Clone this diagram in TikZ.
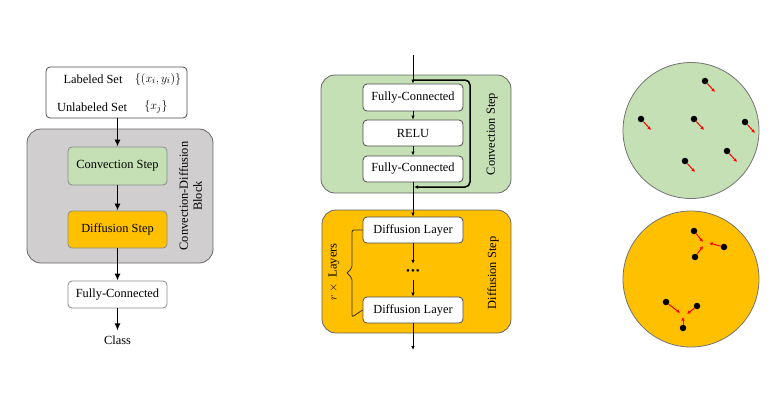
\documentclass[tikz,border=0pt]{standalone}
\usepackage{fontspec}
\setmainfont{Liberation Serif}
\usetikzlibrary{arrows.meta}
\definecolor{cgreen}{HTML}{C5E0B4}
\definecolor{corange}{HTML}{FFC000}
\definecolor{cgray}{HTML}{D0CECE}
\begin{document}
\begin{tikzpicture}[x=1pt,y=-1pt,
  every node/.style={font=\fontsize{12.4}{14}\selectfont},
  wbox/.style={draw=black!70, line width=0.8pt, rounded corners=4pt, fill=white, inner sep=0pt, align=center},
  outerbox/.style={draw=black!60, line width=0.8pt, rounded corners=14pt, inner sep=0pt},
  bigarr/.style={-{Latex[length=7pt,width=6pt]}, line width=1.3pt},
  smallarr/.style={-{Latex[length=4pt,width=3.5pt]}, line width=1pt},
  vlabel/.style={rotate=90, align=center, inner sep=0pt},
  pt/.style={circle, fill=black, inner sep=0pt, minimum size=6.5pt},
  redarr/.style={-{Latex[length=3.5pt,width=3.5pt]}, red, line width=1pt},
  blob/.style={circle, draw=black!55, line width=0.8pt, minimum size=136pt, inner sep=0pt}]
\useasboundingbox (0,0) rectangle (784,400);

% ---------------- left panel ----------------
\node[wbox, minimum width=141pt, minimum height=51pt] (inbox) at (116.5,92.5) {};
\node (lab) at (93,79) {Labeled Set};
\node (labm) at (158,79) {$\{(x_i,y_i)\}$};
\node (unl) at (92,107) {Unlabeled Set};
\node (unlm) at (156,107) {$\{x_j\}$};

\node[outerbox, fill=cgray, minimum width=186pt, minimum height=134pt] (cdblock) at (120,196) {};
\node[wbox, draw=black!45, fill=cgreen, minimum width=99pt, minimum height=38pt] (conv) at (117.5,166) {Convection Step};
\node[wbox, draw=black!45, fill=corange, minimum width=99pt, minimum height=37pt] (diff) at (117.5,229.5) {Diffusion Step};
\node[vlabel] (cdlabel) at (190.5,196) {Convection-Diffusion\\Block};
\node[wbox, draw=black!45, minimum width=99pt, minimum height=27pt] (fc) at (117.5,294.5) {Fully-Connected};
\node[inner sep=5pt] (class) at (117.5,340) {Class};

\draw[bigarr] (inbox.south -| conv.north) -- (conv.north);
\draw[bigarr] (conv) -- (diff);
\draw[bigarr] (diff) -- (fc);
\draw[bigarr] (fc) -- (class);

% ---------------- middle panel ----------------
\node[outerbox, fill=cgreen, minimum width=190pt, minimum height=118pt] (convbox) at (416,134) {};
\node[wbox, minimum width=100pt, minimum height=27pt] (fc1) at (413,97.5) {Fully-Connected};
\node[wbox, minimum width=100pt, minimum height=26pt] (relu) at (413,133) {RELU};
\node[wbox, minimum width=100pt, minimum height=26pt] (fc2) at (413,169) {Fully-Connected};
\node[vlabel] (convlabel) at (492,134) {Convection Step};

\node[outerbox, fill=corange, minimum width=189pt, minimum height=123pt] (diffbox) at (416.5,271.5) {};
\node[wbox, minimum width=100pt, minimum height=26pt] (dl1) at (413,230) {Diffusion Layer};
\node[inner sep=0pt, minimum height=16pt, font=\fontsize{11}{11}\selectfont] (dots) at (413,272) {\textbullet\kern1pt\textbullet\kern1pt\textbullet};
\node[wbox, minimum width=100pt, minimum height=26pt] (dl2) at (413,310) {Diffusion Layer};
\node[vlabel] (difflabel) at (493,273) {Diffusion Step};
\node[vlabel] (rlabel) at (334,272) {$r \times{}$ Layers};

\coordinate (topin) at (413,55);
\coordinate (skipstart) at (413,80);
\coordinate (skipend) at (414,187);
\coordinate (bottomout) at (413,350);

\draw[smallarr] (topin) -- (fc1.north);
\draw[smallarr] (fc1) -- (relu);
\draw[smallarr] (relu) -- (fc2);
\draw[smallarr] (fc2) -- (dl1);
\draw[smallarr] (dl1) -- (dots);
\draw[smallarr] (dots) -- (dl2);
\draw[smallarr] (dl2) -- (bottomout);
\draw[-{Latex[length=4pt,width=3.5pt]}, line width=1.5pt, rounded corners=5pt]
  (skipstart) -- (470,80) -- (470,187) -- (skipend);

% brace
\draw[line width=0.8pt, black!80, rounded corners=2pt]
  (dl1.west) -- (352,230) -- (352,268) -- (347,273);
\draw[line width=0.8pt, black!80, rounded corners=2pt]
  (347,273) -- (352,278) -- (352,317) -- (dl2.west);

% ---------------- right panel ----------------
\node[blob, fill=cgreen] (gc) at (691,130.5) {};
\node[blob, fill=corange] (oc) at (691,279) {};

\foreach \n/\x/\y in {a/705/81, b/641/119, c/694/119, d/745/122, e/727/151, f/685/161}{
  \node[pt] (g\n) at (\x,\y) {};
  \coordinate (gt\n) at (\x+10,\y+11);
  \draw[redarr] (g\n) -- (gt\n);
}

% orange circle groups
\node[pt] (o1) at (694,231) {};
\node[pt] (o2) at (724,247) {};
\node[pt] (o3) at (695,257) {};
\coordinate (oc1a) at (703,242);
\coordinate (oc1b) at (709,243);
\coordinate (oc1c) at (703,246);
\draw[redarr] (o1) -- (oc1a);
\draw[redarr] (o2) -- (oc1b);
\draw[redarr] (o3) -- (oc1c);

\node[pt] (o4) at (666,302) {};
\node[pt] (o5) at (697,306) {};
\node[pt] (o6) at (683,328) {};
\coordinate (oc2a) at (680,313);
\coordinate (oc2b) at (687,314);
\coordinate (oc2c) at (683,317);
\draw[redarr] (o4) -- (oc2a);
\draw[redarr] (o5) -- (oc2b);
\draw[redarr] (o6) -- (oc2c);
\end{tikzpicture}
\end{document}
